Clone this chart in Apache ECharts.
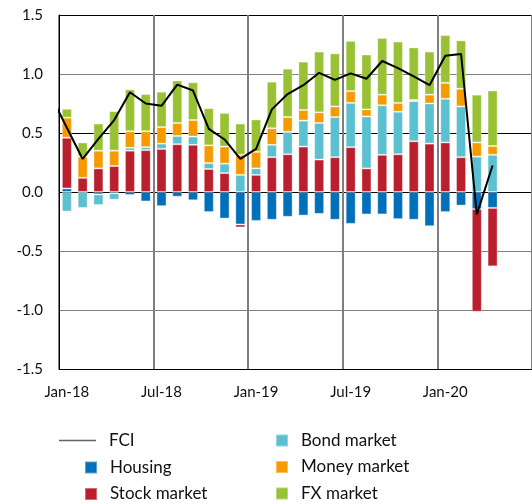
<!DOCTYPE html>
<html>
<head>
<meta charset="utf-8">
<title>FCI</title>
<script src="https://cdn.jsdelivr.net/npm/echarts@6/dist/echarts.min.js"></script>
<style>
  html, body { margin: 0; padding: 0; background: #fff; }
  #fci-chart { width: 532px; height: 504px; }
</style>
</head>
<body>
<div id="fci-chart"></div>
<script>
// months, Dec-17 is only there so the FCI line runs in from the left edge
var months = ['Dec-17',
    'Jan-18', 'Feb-18', 'Mar-18', 'Apr-18', 'May-18', 'Jun-18', 'Jul-18', 'Aug-18', 'Sep-18', 'Oct-18', 'Nov-18', 'Dec-18',
    'Jan-19', 'Feb-19', 'Mar-19', 'Apr-19', 'May-19', 'Jun-19', 'Jul-19', 'Aug-19', 'Sep-19', 'Oct-19', 'Nov-19', 'Dec-19',
    'Jan-20', 'Feb-20', 'Mar-20', 'Apr-20', 'May-20', 'Jun-20'];

var housing = ['-', 0.03, 0, -0.02, -0.01, -0.025, -0.08, -0.12, -0.04, -0.07, -0.17, -0.225, -0.275,
    -0.245, -0.235, -0.21, -0.2, -0.185, -0.235, -0.27, -0.19, -0.19, -0.23, -0.235, -0.29,
    -0.17, -0.115, -0.145, -0.135];
var stock = ['-', 0.43, 0.12, 0.2, 0.22, 0.35, 0.355, 0.365, 0.405, 0.4, 0.195, 0.16, -0.025,
    0.145, 0.295, 0.32, 0.385, 0.275, 0.295, 0.38, 0.2, 0.315, 0.32, 0.43, 0.41,
    0.42, 0.295, -0.87, -0.495];
var bond = ['-', -0.165, -0.135, -0.09, -0.055, 0.025, 0.025, 0.045, 0.07, 0.07, 0.05, 0.08, 0.145,
    0.055, 0.105, 0.19, 0.22, 0.31, 0.34, 0.375, 0.44, 0.42, 0.36, 0.34, 0.34,
    0.37, 0.43, 0.3, 0.315];
var money = ['-', 0.17, 0.18, 0.15, 0.13, 0.14, 0.135, 0.14, 0.11, 0.14, 0.15, 0.145, 0.17,
    0.14, 0.14, 0.125, 0.09, 0.09, 0.09, 0.1, 0.06, 0.09, 0.075, 0.01, 0.075,
    0.135, 0.15, 0.12, 0.075];
var fx = ['-', 0.075, 0.12, 0.23, 0.335, 0.355, 0.315, 0.3, 0.36, 0.32, 0.315, 0.285, 0.265,
    0.275, 0.395, 0.41, 0.41, 0.515, 0.45, 0.425, 0.465, 0.48, 0.52, 0.445, 0.365,
    0.405, 0.41, 0.405, 0.47];
var fci = [0.81, 0.545, 0.28, 0.45, 0.61, 0.845, 0.75, 0.73, 0.91, 0.86, 0.535, 0.445, 0.28,
    0.365, 0.7, 0.83, 0.905, 1.01, 0.95, 1.005, 0.96, 1.11, 1.05, 0.98, 0.905,
    1.155, 1.17, -0.19, 0.225];

var colors = {
    housing: '#0070BA',
    stock: '#BA1F2E',
    bond: '#5BC1D0',
    money: '#F59B00',
    fx: '#98C233'
};

var font = 'Lato, "Open Sans", sans-serif';
var legendText = { fontFamily: font, fontSize: 17, lineHeight: 17, color: '#111', padding: [0, 0, 0, 8] };

function barSeries(name, data, color) {
    return {
        name: name,
        type: 'bar',
        stack: 'total',
        barWidth: 10,
        data: data,
        itemStyle: {
            color: color,
            borderColor: 'rgba(255,255,255,0.35)',
            borderWidth: 1
        }
    };
}

function isLabelMonth(index, value) {
    return value.indexOf('Jan') === 0 || value.indexOf('Jul') === 0;
}

var fciChart = echarts.init(document.getElementById('fci-chart'));
fciChart.setOption({
    animation: false,
    textStyle: { fontFamily: font },
    grid: {
        left: 59,
        right: -4,
        top: 15,
        bottom: 135
    },
    legend: [{
        data: [{ name: 'FCI', icon: 'rect', itemStyle: { color: '#666' } }],
        left: 59,
        top: 432,
        padding: 0,
        itemWidth: 37,
        itemHeight: 1.5,
        textStyle: legendText
    }, {
        data: ['Housing', 'Stock market'],
        orient: 'vertical',
        left: 84,
        top: 459,
        padding: 0,
        itemGap: 9.5,
        itemWidth: 12,
        itemHeight: 12,
        icon: 'rect',
        textStyle: legendText
    }, {
        data: ['Bond market', 'Money market', 'FX market'],
        orient: 'vertical',
        left: 275,
        top: 432,
        padding: 0,
        itemGap: 9.5,
        itemWidth: 12,
        itemHeight: 12,
        icon: 'rect',
        textStyle: legendText
    }],
    xAxis: {
        type: 'category',
        data: months,
        min: 1,
        max: months.length - 1,
        boundaryGap: true,
        axisLine: { onZero: false, lineStyle: { color: '#000', width: 1 } },
        axisTick: { show: false },
        axisLabel: {
            interval: isLabelMonth,
            margin: 16,
            fontFamily: font,
            fontSize: 15,
            color: '#111'
        },
        splitLine: {
            show: true,
            interval: isLabelMonth,
            lineStyle: { color: '#7f7f7f', width: 2 }
        }
    },
    yAxis: {
        type: 'value',
        min: -1.5,
        max: 1.5,
        interval: 0.5,
        axisLine: { show: true, lineStyle: { color: '#000', width: 1 } },
        axisTick: { show: false },
        axisLabel: {
            margin: 16,
            fontFamily: font,
            fontSize: 15,
            color: '#111',
            formatter: function(v) { return v.toFixed(1); }
        },
        splitLine: {
            lineStyle: {
                color: ['#808080', '#808080', '#808080', '#000', '#000', '#808080', '#000'],
                width: 1
            }
        }
    },
    series: [
        {
            name: 'FCI',
            type: 'line',
            data: fci,
            symbol: 'none',
            showSymbol: false,
            clip: true,
            z: 5,
            lineStyle: { color: '#000', width: 2 },
            itemStyle: { color: '#000' }
        },
        barSeries('Housing', housing, colors.housing),
        barSeries('Stock market', stock, colors.stock),
        barSeries('Bond market', bond, colors.bond),
        barSeries('Money market', money, colors.money),
        barSeries('FX market', fx, colors.fx)
    ]
});
</script>
</body>
</html>
